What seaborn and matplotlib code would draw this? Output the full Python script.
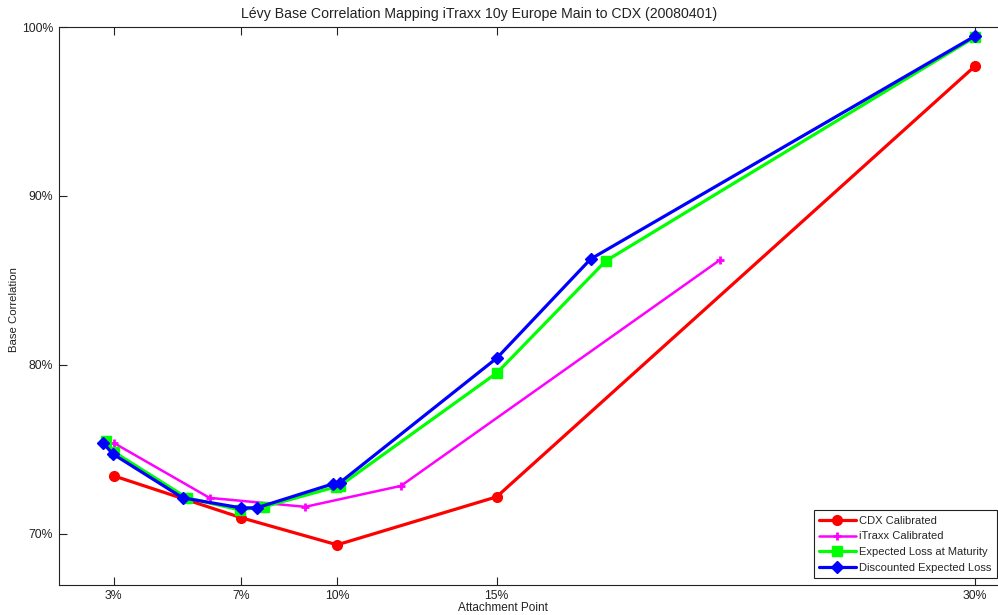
import matplotlib
matplotlib.use("Agg")
import matplotlib.pyplot as plt
import seaborn as sns

# attachment points (%) and base correlations (%)
cdx_x = [3, 7, 10, 15, 30]
cdx_y = [73.43, 70.95, 69.35, 72.19, 97.69]

itraxx_x = [3, 6, 9, 12, 22]
itraxx_y = [75.38, 72.13, 71.60, 72.84, 86.21]

el_x = [2.75, 3.0, 5.29, 6.95, 7.70, 9.96, 10.08, 15.01, 18.42, 30]
el_y = [75.50, 74.85, 72.13, 71.42, 71.60, 72.78, 72.84, 79.53, 86.15, 99.41]

del_x = [2.66, 2.97, 5.16, 6.98, 7.48, 9.87, 10.08, 15.01, 17.95, 30]
del_y = [75.38, 74.73, 72.13, 71.54, 71.54, 72.96, 73.02, 80.41, 86.27, 99.47]

xticks = [3, 7, 10, 15, 30]
yticks = [70, 80, 90, 100]


def main():
    sns.set_style("white")
    plt.rcParams["font.family"] = ["Liberation Sans", "DejaVu Sans"]

    fig = plt.figure(figsize=(9.98, 6.15), dpi=100)
    ax = fig.add_axes([0.059, 0.049, 0.948, 0.907])

    sns.lineplot(x=cdx_x, y=cdx_y, sort=False, estimator=None, ax=ax,
                 color="#ff0000", linewidth=2.3, marker="o", markersize=7,
                 markeredgecolor="#ff0000", markeredgewidth=1,
                 label="CDX Calibrated")
    sns.lineplot(x=itraxx_x, y=itraxx_y, sort=False, estimator=None, ax=ax,
                 color="#ff00ff", linewidth=1.8, marker="+", markersize=6,
                 markeredgecolor="#ff00ff", markeredgewidth=2,
                 label="iTraxx Calibrated")
    sns.lineplot(x=el_x, y=el_y, sort=False, estimator=None, ax=ax,
                 color="#00ff00", linewidth=2.3, marker="s", markersize=7,
                 markeredgecolor="#00ff00", markeredgewidth=1,
                 label="Expected Loss at Maturity")
    sns.lineplot(x=del_x, y=del_y, sort=False, estimator=None, ax=ax,
                 color="#0000ff", linewidth=2.3, marker="D", markersize=6,
                 markeredgecolor="#0000ff", markeredgewidth=1,
                 label="Discounted Expected Loss")

    ax.set_xlim(1.276, 30.94)
    ax.set_ylim(66.98, 100)
    ax.set_xticks(xticks)
    ax.set_xticklabels([f"{t}%" for t in xticks])
    ax.set_yticks(yticks)
    ax.set_yticklabels([f"{t}%" for t in yticks])
    ax.tick_params(axis="both", direction="in", length=6, width=0.8,
                   labelsize=8.8, colors="#222222", pad=4,
                   top=True, right=False, bottom=True, left=True)
    for s in ax.spines.values():
        s.set_color("#222222")
        s.set_linewidth(0.8)

    ax.set_xlabel("")
    ax.set_ylabel("")
    fig.text(0.48, 0.978, "Lévy Base Correlation Mapping iTraxx 10y Europe Main to CDX (20080401)",
             ha="center", va="center", fontsize=10.2, color="#222222")
    fig.text(0.504, 0.012, "Attachment Point", ha="center", va="center",
             fontsize=8.5, color="#222222")
    fig.text(0.014, 0.497, "Base Correlation", ha="center", va="center",
             rotation=90, fontsize=8.2, color="#222222")

    leg = ax.legend(loc="lower right", bbox_to_anchor=(0.999, 0.060),
                    bbox_transform=fig.transFigure, borderaxespad=0,
                    fontsize=8, frameon=True, fancybox=False, framealpha=1,
                    handlelength=3.3, handletextpad=0.3, labelspacing=0.5,
                    borderpad=0.5)
    leg.get_frame().set_edgecolor("#222222")
    leg.get_frame().set_linewidth(0.8)

    fig.savefig("out.png", dpi=100)


if __name__ == "__main__":
    main()
